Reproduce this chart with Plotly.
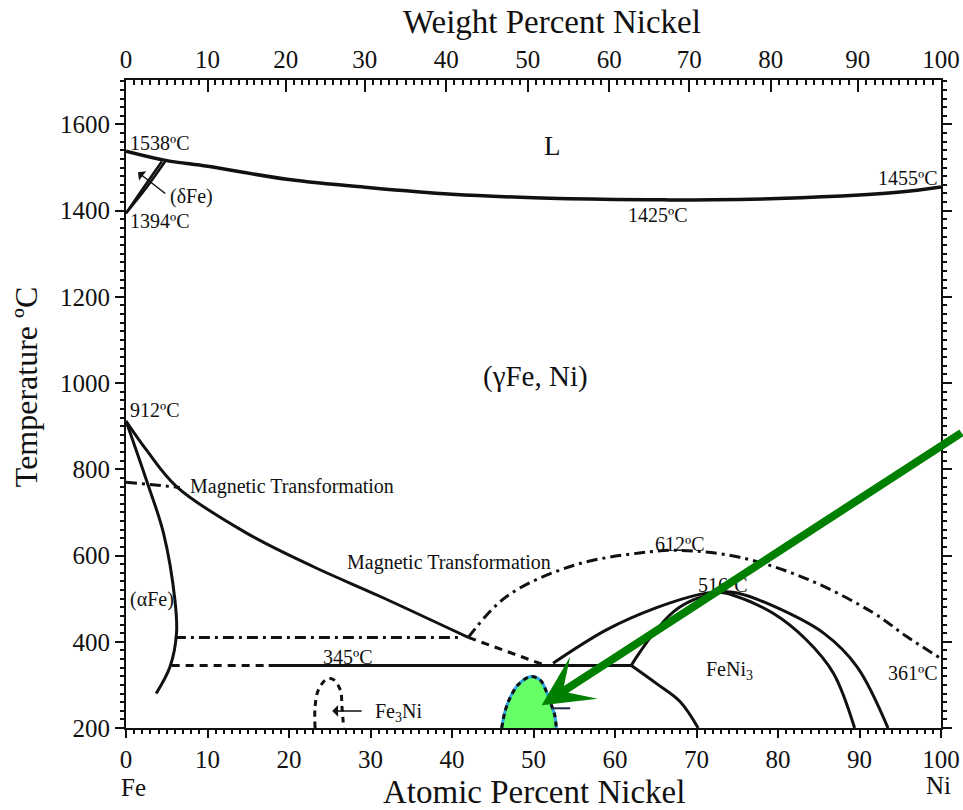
import numpy as np
import plotly.graph_objects as go

# ---- phase boundaries (atomic % Ni, temperature °C) ----
liq_x = [0, 5, 10, 20, 30, 40, 50, 60, 66, 72, 80, 90, 95, 100]
liq_t = [1538, 1516, 1503, 1472, 1453, 1438, 1430, 1426, 1425, 1425, 1428, 1436, 1443, 1455]

delta_a_x = [0, 2.1, 4.4]
delta_a_t = [1394, 1452, 1514]
delta_b_x = [0, 2.45, 4.8]
delta_b_t = [1394, 1452, 1514]

alpha_x = [0, 2.5, 4.6, 6.0, 6.2, 5.4, 3.7]
alpha_t = [912, 775, 652, 497, 420, 342, 280]

gamma_x = [0, 2.5, 6.2, 14.8, 23, 31.2, 42]
gamma_t = [912, 845, 760, 652, 574, 505, 410]

gamma_dash_x = [42, 51.5]
gamma_dash_t = [410, 345]

mag1_x = [0, 6.6]
mag1_t = [770, 758]

mag2_x = [42, 46.7, 54.9, 63, 68, 75.3, 83.5, 91.7, 95.8, 100]
mag2_t = [410, 505, 577, 606, 612, 596, 546, 467, 412, 361]

dd410_x = [6.0, 41.0]
dd410_t = [410, 410]

eut_dash_x = [5.6, 17.5]
eut_dash_t = [345, 345]
eut_x = [17.5, 62]
eut_t = [345, 345]

feni3_outer_x = [52.4, 59, 65.1, 70.4, 73, 75, 79.4, 85.6, 89.7, 93.5]
feni3_outer_t = [350, 428, 479, 510, 516, 513, 483, 420, 342, 200]

feni3_inner_x = [62, 62.7, 64.7, 67.2, 69.6, 72.1, 73, 74.5, 79.4, 83.5, 86.8, 89.4]
feni3_inner_t = [345, 366, 419, 470, 497, 511, 514, 508, 466, 404, 327, 200]

lower_x = [62, 65.1, 68, 70.2]
lower_t = [345, 303, 261, 200]

fe3ni_x = [23.2, 23.2, 23.6, 24.6, 25.4, 26.3, 26.5, 26.7]
fe3ni_t = [200, 249, 288, 313, 313, 288, 249, 200]

dome_x = [46.1, 46.5, 47.1, 48.1, 49.6, 50.8, 51.6, 52.2, 52.6, 52.8]
dome_t = [200, 238, 269, 300, 319, 311.5, 284, 253, 230, 200]

mark_x = [52.2, 54.5]
mark_t = [245.7, 245.7]

# ---- axes ----
bottom_ticks = list(range(0, 101, 10))
top_tick_pos = [0, 10.0, 19.6, 29.3, 39.3, 49.3, 59.3, 69.1, 79.1, 89.8, 100]
top_tick_text = [str(v) for v in range(0, 101, 10)]

FONT = "Liberation Serif"
BLACK = "#111111"

top_minor = []
for a, b in zip(top_tick_pos[:-1], top_tick_pos[1:]):
    top_minor.extend(np.linspace(a, b, 11)[1:-1].tolist())

fig = go.Figure()


def line(x, t, width=3, dash="solid", color=BLACK, shape="spline"):
    fig.add_trace(go.Scatter(
        x=x, y=t, mode="lines",
        line=dict(color=color, width=width, dash=dash, shape=shape, smoothing=1.0),
        hoverinfo="skip", showlegend=False))


DASHDOT = "11px,5px,3px,5px"
DASH = "8px,6px"

line(liq_x, liq_t, width=3.5)
line(delta_a_x, delta_a_t, width=2.5)
line(delta_b_x, delta_b_t, width=2.5)
line(alpha_x, alpha_t)
line(gamma_x, gamma_t)
line(gamma_dash_x, gamma_dash_t, dash=DASH, shape="linear")
line(mag1_x, mag1_t, dash=DASHDOT, shape="linear")
line(mag2_x, mag2_t, dash=DASHDOT)
line(dd410_x, dd410_t, dash=DASHDOT, shape="linear")
line(eut_dash_x, eut_dash_t, dash=DASH, shape="linear")
line(eut_x, eut_t, shape="linear")
line(feni3_outer_x, feni3_outer_t)
line(feni3_inner_x, feni3_inner_t)
line(lower_x, lower_t)
line(fe3ni_x, fe3ni_t, dash="6px,5px")

# highlighted dome
fig.add_trace(go.Scatter(
    x=dome_x, y=dome_t, mode="lines", fill="toself", fillcolor="#66ff66",
    line=dict(color="#2aa6e0", width=3, shape="spline"),
    hoverinfo="skip", showlegend=False))
line(dome_x, dome_t, dash="5px,4px", width=3)
line(mark_x, mark_t, width=2, color="#1c2a48", shape="linear")

# invisible trace so the top (weight %) axis is drawn
fig.add_trace(go.Scatter(x=[0], y=[200], xaxis="x2", mode="markers",
                         marker=dict(opacity=0), hoverinfo="skip", showlegend=False))

labels = [
    ("1538ºC", 0.25, 1558, "left"),
    ("1394ºC", 0.25, 1375, "left"),
    ("(δFe)", 5.15, 1433, "left"),
    ("1455ºC", 99.9, 1475, "right"),
    ("1425ºC", 65.3, 1389, "center"),
    ("912ºC", 0.25, 938, "left"),
    ("Magnetic Transformation", 7.6, 760, "left"),
    ("Magnetic Transformation", 26.9, 583, "left"),
    ("(αFe)", 0.25, 497, "left"),
    ("345ºC", 27.2, 365, "center"),
    ("Fe<sub>3</sub>Ni", 30.3, 236, "left"),
    ("612ºC", 68.0, 627, "center"),
    ("516ºC", 73.25, 532, "center"),
    ("FeNi<sub>3</sub>", 74.1, 333, "center"),
    ("361ºC", 99.9, 328, "right"),
]

annotations = []
for text, x, t, anchor in labels:
    annotations.append(dict(
        text=text, x=x, y=t, xref="x", yref="y", xanchor=anchor, yanchor="middle",
        showarrow=False, font=dict(family=FONT, size=20, color=BLACK)))

annotations.append(dict(text="L", x=52.35, y=1550, xref="x", yref="y",
                        showarrow=False, font=dict(family=FONT, size=27, color=BLACK)))
annotations.append(dict(text="(γFe, Ni)", x=50.3, y=1016, xref="x", yref="y",
                        showarrow=False, font=dict(family=FONT, size=29, color=BLACK)))

# small pointer arrows
annotations.append(dict(text="", x=1.47, y=1489, ax=5.0, ay=1437, xref="x", yref="y",
                        axref="x", ayref="y", showarrow=True, arrowhead=1,
                        arrowwidth=1.5, arrowsize=1.3, arrowcolor=BLACK))
annotations.append(dict(text="", x=25.3, y=239.5, ax=29.1, ay=239.5, xref="x", yref="y",
                        axref="x", ayref="y", showarrow=True, arrowhead=1,
                        arrowwidth=1.5, arrowsize=1.3, arrowcolor=BLACK))

# axis titles and end-member labels
annotations += [
    dict(text="Weight Percent Nickel", x=0.523, y=1.0895, xref="paper", yref="paper",
         showarrow=False, yanchor="middle", font=dict(family=FONT, size=33, color=BLACK)),
    dict(text="Atomic Percent Nickel", x=0.5006, y=-0.0995, xref="paper", yref="paper",
         showarrow=False, yanchor="middle", font=dict(family=FONT, size=33, color=BLACK)),
    dict(text="Temperature ºC", x=-0.1227, y=0.526, xref="paper", yref="paper",
         showarrow=False, textangle=-90, xanchor="center", yanchor="middle",
         font=dict(family=FONT, size=32, color=BLACK)),
    dict(text="Fe", x=0.0086, y=-0.0918, xref="paper", yref="paper", showarrow=False,
         xanchor="center", yanchor="middle", font=dict(family=FONT, size=25, color=BLACK)),
    dict(text="Ni", x=0.9965, y=-0.088, xref="paper", yref="paper", showarrow=False,
         xanchor="center", yanchor="middle", font=dict(family=FONT, size=25, color=BLACK)),
]

# big green pointer
annotations.append(dict(text="", x=51.0, y=253, ax=102.7, ay=887, xref="x", yref="y",
                        axref="x", ayref="y", showarrow=True, arrowhead=3,
                        arrowwidth=8, arrowsize=1.05, arrowcolor="#008000"))

tickfont = dict(family=FONT, size=25, color=BLACK)

fig.update_layout(
    width=963, height=810,
    margin=dict(l=126, r=22, t=80, b=82, pad=0, autoexpand=False),
    paper_bgcolor="white", plot_bgcolor="white",
    annotations=annotations,
    xaxis=dict(
        range=[0, 100], tickmode="array", tickvals=bottom_ticks, automargin=False,
        ticks="outside", ticklen=8, tickwidth=2, tickcolor=BLACK,
        minor=dict(dtick=1, tick0=0, ticks="outside", ticklen=4, tickwidth=1.5, tickcolor=BLACK),
        showline=True, linewidth=2, linecolor=BLACK, mirror=False,
        showgrid=False, zeroline=False, tickfont=tickfont,
    ),
    xaxis2=dict(
        range=[0, 100], overlaying="x", side="top", anchor="y", automargin=False,
        tickmode="array", tickvals=top_tick_pos, ticktext=top_tick_text,
        ticks="inside", ticklen=12, tickwidth=2, tickcolor=BLACK,
        minor=dict(tickmode="array", tickvals=top_minor, ticks="inside", ticklen=5,
                   tickwidth=1.5, tickcolor=BLACK),
        showline=True, linewidth=2, linecolor=BLACK,
        showgrid=False, zeroline=False, tickfont=tickfont,
    ),
    yaxis=dict(
        range=[200, 1703], tick0=200, dtick=200, automargin=False,
        ticks="outside", ticklen=9, tickwidth=2, tickcolor=BLACK,
        minor=dict(dtick=20, tick0=200, ticks="outside", ticklen=4, tickwidth=1.5, tickcolor=BLACK),
        showline=True, linewidth=2, linecolor=BLACK, mirror="ticks",
        showgrid=False, zeroline=False, tickfont=tickfont,
    ),
)

fig.write_html("out.html")
